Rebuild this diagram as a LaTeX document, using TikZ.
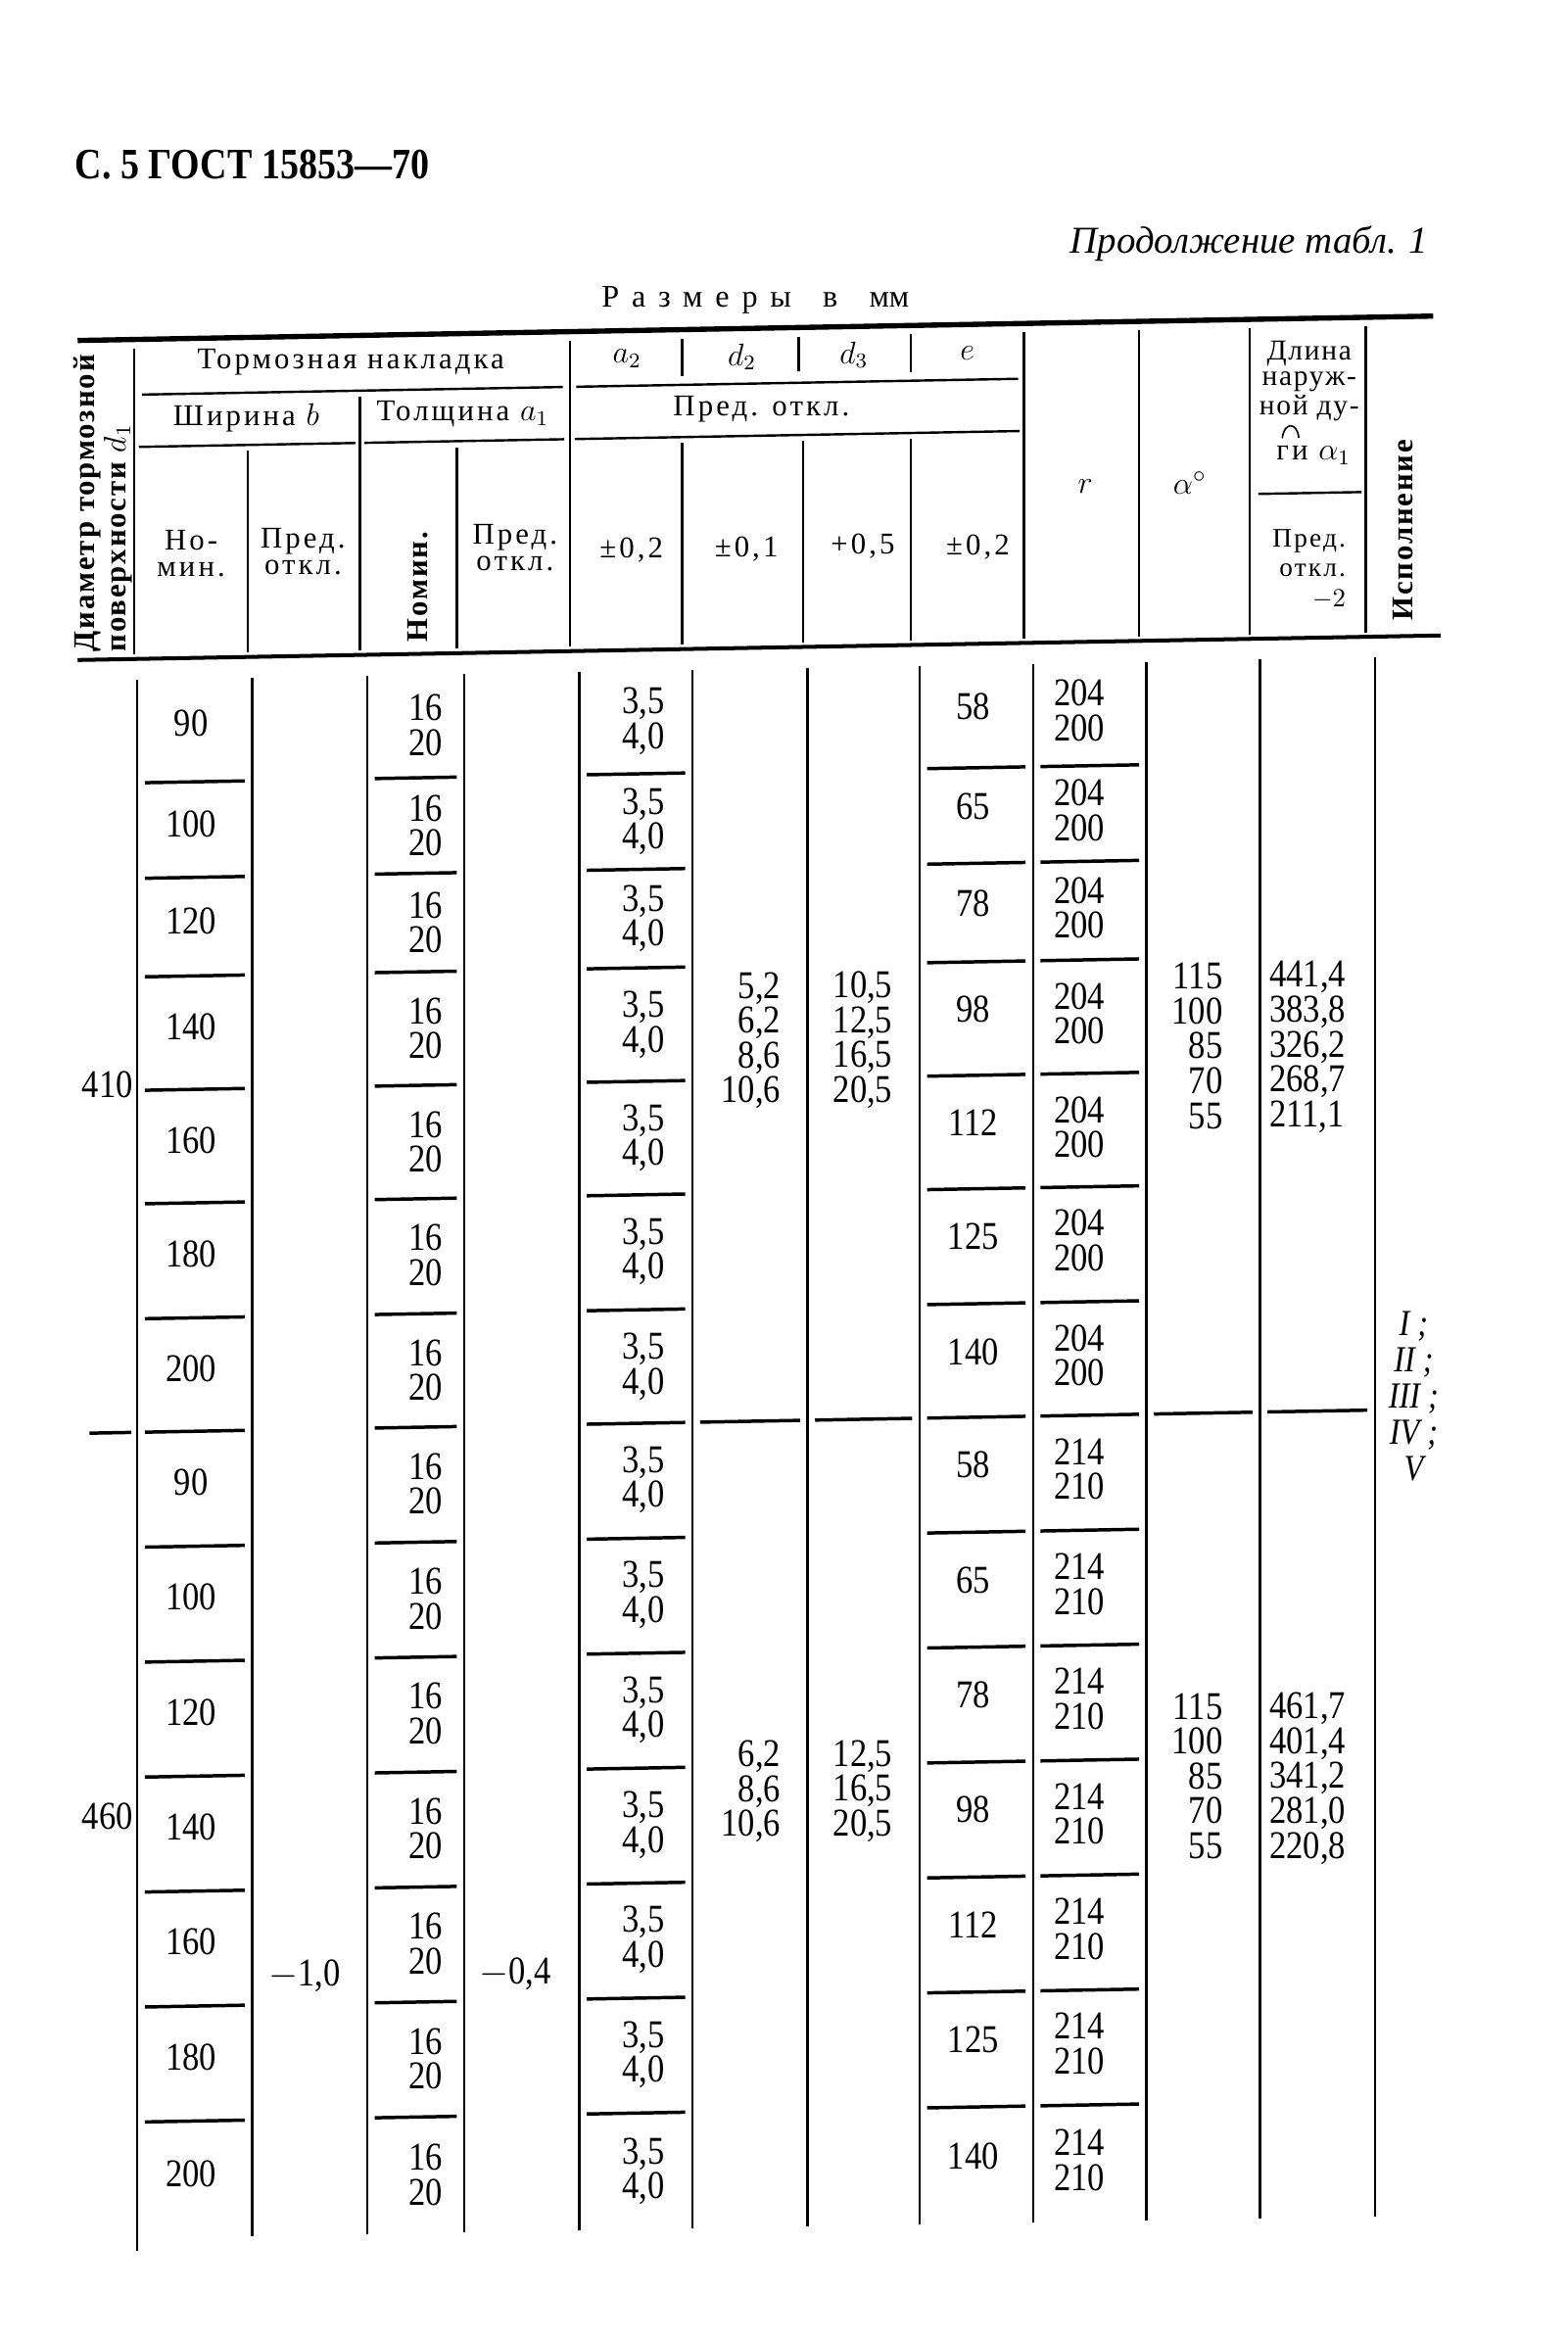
\documentclass[tikz,border=0pt]{standalone}
\usepackage{amsmath}
\usepackage{fontspec}
\setmainfont{Liberation Serif}
\newfontfamily\numfont{Liberation Serif}[FakeStretch=0.86]
\usepackage{tikz}

\tikzset{
  cell/.style={font=\numfont\fontsize{15}{13.3}\selectfont, align=center, inner sep=0pt},
  headtext/.style={font=\fontsize{11.5}{10.2}\selectfont\addfontfeature{LetterSpace=10}, align=center, inner sep=0pt},
  headbold/.style={font=\fontsize{11.5}{10.4}\selectfont\bfseries\addfontfeature{LetterSpace=6}, inner sep=0pt},
  vline/.style={line width=0.9pt},
  sepline/.style={line width=1.3pt},
}

\begin{document}
\begin{tikzpicture}[x=0.02cm, y=-0.02cm]
\useasboundingbox (0,0) rectangle (1050,1568);

% page heading
\node[anchor=base west, inner sep=0pt, font=\numfont\fontsize{16.5}{20}\selectfont\bfseries] (title) at (50,120) {С. 5 ГОСТ 15853—70};
\node[anchor=east, inner sep=0pt, font=\fontsize{14.5}{18}\selectfont\itshape] (cont) at (957,163) {Продолжение табл. 1};
\node[inner sep=0pt, font=\fontsize{12}{15}\selectfont] (units) at (506,201) {{\addfontfeature{LetterSpace=40}Размеры}\quad в\quad мм};

\begin{scope}[shift={(500,0)}, yslant=0.018, shift={(-500,0)}]
% rules of the header
\draw[line width=2pt] (52,220) -- (960,220);
\draw[line width=1.5pt] (52,434) -- (965,434);
\foreach \x/\ya/\yb in {90/226/431, 382/226/431, 686/226/431, 763/226/431, 837/226/431, 915/226/431,
    241/261/431, 166/296/431, 306/296/431, 457/296/431, 538/296/431, 610/296/431,
    457/226/251, 535/226/249, 610/226/251}
  \draw[vline] (\x,\ya) -- (\x,\yb);
\draw[vline] (95,257) -- (377,257);
\draw[vline] (386,257) -- (682,257);
\draw[vline] (93,292) -- (238,292);
\draw[vline] (244,292) -- (378,292);
\draw[vline] (385,292) -- (683,292);
\draw[vline] (843,337) -- (912,337);

% header texts
\node[headbold, rotate=90, anchor=west, align=left] (diam) at (69,429) {Диаметр тормозной\\поверхности $d_1$};
\node[headtext] (brake) at (235,238) {Тормозная накладка};
\node[headtext] (ha2) at (420,239) {$a_2$};
\node[headtext] (hd2) at (497,239) {$d_2$};
\node[headtext] (hd3) at (572,239) {$d_3$};
\node[headtext] (he) at (648,239) {$e$};
\node[headtext] (width) at (165,274) {Ширина $b$};
\node[headtext] (thick) at (310,274) {Толщина $a_1$};
\node[headtext] (tol) at (510,274) {Пред. откл.};
\node[headtext] (bnomh) at (128,364) {Но-\\мин.};
\node[headtext] (btolh) at (203,364) {Пред.\\откл.};
\node[headbold, rotate=90] (anomh) at (280,389) {Номин.};
\node[headtext] (atolh) at (345,364) {Пред.\\откл.};
\node[headtext] (tola) at (423,367) {±0,2};
\node[headtext] (told) at (500,368) {±0,1};
\node[headtext] (tolf) at (578,367) {+0,5};
\node[headtext] (tole) at (655,369) {±0,2};
\node[headtext, font=\fontsize{13}{14}\selectfont] (hr) at (727,330) {$r$};
\node[headtext, font=\fontsize{13}{14}\selectfont] (halpha) at (797,329) {$\alpha^\circ$};
\node[headtext, font=\fontsize{11}{9.7}\selectfont\addfontfeature{LetterSpace=6}] (hlen) at (877,262) {Длина\\наруж-\\ной ду-};
\node[headtext] (hlenb) at (880,312) {ги $\alpha_1$};
\draw[line width=0.6pt] (859,300) .. controls (860,289) and (869,289) .. (870,300);
\node[headtext, align=right, font=\fontsize{10.2}{11.3}\selectfont\addfontfeature{LetterSpace=8}] (hlentol) at (877,388) {Пред.\\откл.\\$-2$};
\node[headbold, rotate=90] (exec) at (940,363) {Исполнение};

% body lines
\draw[vline] (92,448) -- (92,1500);
\foreach \x in {169,246,311,388,464,541,616,692,768,844,921}
  \draw[vline] (\x,448) -- (\x,1492);
\foreach \y in {517,581,647,723,799,876,1029,1106,1183,1260,1337,1414}
  \foreach \xa/\xb in {97/164, 251/306, 393/459, 621/687, 697/763}
    \draw[sepline] (\xa,\y) -- (\xb,\y);
\foreach \xa/\xb in {60/88, 97/164, 251/306, 393/459, 469/536, 546/611, 621/687, 697/763, 773/839, 849/916}
  \draw[sepline] (\xa,952) -- (\xb,952);

% body values
\foreach \v/\y [count=\i] in {90/482, 100/549, 120/614, 140/685, 160/761, 180/837, 200/914,
    90/990, 100/1067, 120/1144, 140/1221, 160/1298, 180/1375, 200/1453} {
  \node[cell] (bnom\i) at (128,\y-4) {\v};
  \node[cell] (anom\i) at (285,\y) {16\\20};
  \node[cell] (atwo\i) at (431,\y) {3,5\\4,0};
}
\foreach \v/\y [count=\i] in {58/482, 65/549, 78/614, 98/685, 112/761, 125/837, 140/914,
    58/990, 65/1067, 78/1144, 98/1221, 112/1298, 125/1375, 140/1453}
  \node[cell] (ecol\i) at (652,\y-6) {\v};
\foreach \y [count=\i] in {482,549,614,685,761,837,914}
  \node[cell] (rone\i) at (723,\y-2) {204\\200};
\foreach \y [count=\i] in {990,1067,1144,1221,1298,1375,1453}
  \node[cell] (rtwo\i) at (723,\y-2) {214\\210};

\node[cell] (dia1) at (72,719) {410};
\node[cell] (dia2) at (72,1209) {460};
\node[cell] (btol) at (204,1318) {$-$1,0};
\node[cell] (atol) at (345,1319) {$-$0,4};
\node[cell, align=right] (dtwoa) at (503,697) {5,2\\6,2\\8,6\\10,6};
\node[cell] (dthreea) at (578,698) {10,5\\12,5\\16,5\\20,5};
\node[cell, align=right] (dtwob) at (503,1200) {6,2\\8,6\\10,6};
\node[cell] (dthreeb) at (578,1201) {12,5\\16,5\\20,5};
\node[cell, align=right] (alphaa) at (802,706) {115\\100\\85\\70\\55};
\node[cell, align=right] (alphab) at (802,1195) {115\\100\\85\\70\\55};
\node[cell, align=left] (lena) at (876,708) {441,4\\383,8\\326,2\\268,7\\211,1};
\node[cell, align=left] (lenb) at (876,1198) {461,7\\401,4\\341,2\\281,0\\220,8};
\node[cell, font=\numfont\fontsize{14}{13.8}\selectfont\itshape] (variants) at (947,943) {I ;\\II ;\\III ;\\IV ;\\V};
\end{scope}
\end{tikzpicture}
\end{document}
